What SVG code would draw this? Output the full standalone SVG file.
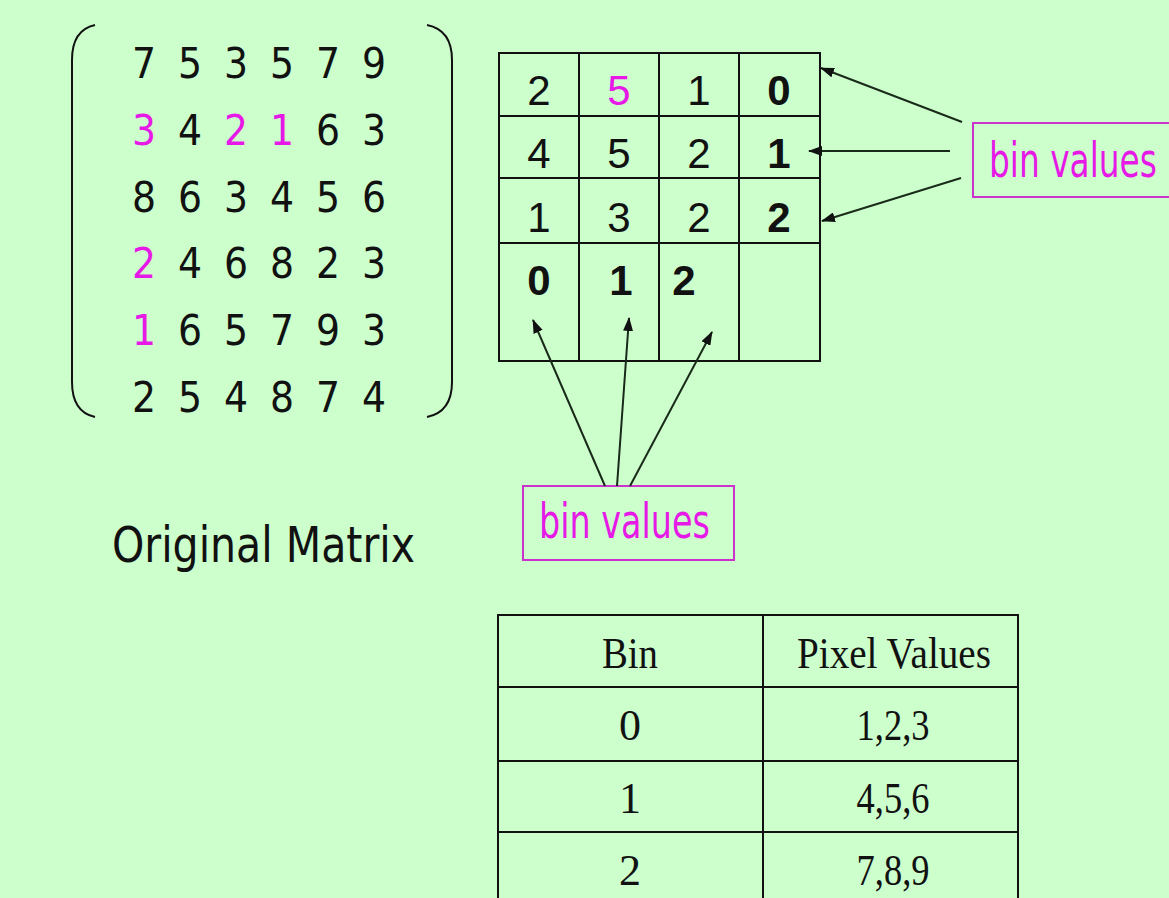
<svg xmlns="http://www.w3.org/2000/svg" width="1169" height="898" viewBox="0 0 1169 898">
<style>
.mx{font-family:"DejaVu Sans Condensed","DejaVu Sans",sans-serif;font-size:42px;fill:#111;text-anchor:middle}
.mg{fill:#e619e6}
.gd{font-family:"Liberation Sans",Arial,sans-serif;font-size:42px;fill:#111;text-anchor:middle}
.gb{font-weight:bold}
.ln{fill:none;stroke:#111;stroke-width:2}
.lbl{font-family:"DejaVu Sans Condensed","DejaVu Sans",sans-serif;font-size:48px;fill:#e619e6}
.lbox{fill:none;stroke:#cc33cc;stroke-width:2}
.tb{font-family:"Liberation Serif","Times New Roman",serif;font-size:44px;fill:#111;text-anchor:middle}
.con{fill:none;stroke:#1a2a1a;stroke-width:2;marker-end:url(#ah)}
</style>
<defs>
<marker id="ah" markerUnits="userSpaceOnUse" markerWidth="14" markerHeight="10" refX="13" refY="5" orient="auto">
<path d="M0,0 L14,5 L0,10 z" fill="#111"/>
</marker>
</defs>
<rect width="1169" height="898" fill="#ccffcc"/>

<g id="matrix">
<path class="ln" d="M95,25 Q72,30 72,60 L72,382 Q72,412 95,417"/>
<path class="ln" d="M427,25 Q452,30 452,60 L452,382 Q452,412 427,417"/>
<text class="mx" y="78"><tspan x="144">7</tspan><tspan x="190">5</tspan><tspan x="236">3</tspan><tspan x="282">5</tspan><tspan x="328">7</tspan><tspan x="374">9</tspan></text>
<text class="mx" y="145"><tspan x="144" class="mg">3</tspan><tspan x="190">4</tspan><tspan x="236" class="mg">2</tspan><tspan x="282" class="mg">1</tspan><tspan x="328">6</tspan><tspan x="374">3</tspan></text>
<text class="mx" y="212"><tspan x="144">8</tspan><tspan x="190">6</tspan><tspan x="236">3</tspan><tspan x="282">4</tspan><tspan x="328">5</tspan><tspan x="374">6</tspan></text>
<text class="mx" y="278"><tspan x="144" class="mg">2</tspan><tspan x="190">4</tspan><tspan x="236">6</tspan><tspan x="282">8</tspan><tspan x="328">2</tspan><tspan x="374">3</tspan></text>
<text class="mx" y="345"><tspan x="144" class="mg">1</tspan><tspan x="190">6</tspan><tspan x="236">5</tspan><tspan x="282">7</tspan><tspan x="328">9</tspan><tspan x="374">3</tspan></text>
<text class="mx" y="412"><tspan x="144">2</tspan><tspan x="190">5</tspan><tspan x="236">4</tspan><tspan x="282">8</tspan><tspan x="328">7</tspan><tspan x="374">4</tspan></text>
</g>

<g id="title">
<text x="112" y="562" font-family="'DejaVu Sans Condensed','DejaVu Sans',sans-serif" font-size="50" fill="#111" textLength="303" lengthAdjust="spacingAndGlyphs">Original Matrix</text>
</g>

<g id="grid">
<rect class="ln" x="499" y="53" width="321" height="308"/>
<path class="ln" d="M579,53V361M659,53V361M739,53V361M499,116H820M499,178H820M499,243H820"/>
<text class="gd" y="105"><tspan x="539">2</tspan><tspan x="619" class="mg">5</tspan><tspan x="699">1</tspan><tspan x="779" class="gb">0</tspan></text>
<text class="gd" y="168"><tspan x="539">4</tspan><tspan x="619">5</tspan><tspan x="699">2</tspan><tspan x="779" class="gb">1</tspan></text>
<text class="gd" y="232"><tspan x="539">1</tspan><tspan x="619">3</tspan><tspan x="699">2</tspan><tspan x="779" class="gb">2</tspan></text>
<text class="gd gb" y="295"><tspan x="539">0</tspan><tspan x="621">1</tspan><tspan x="684">2</tspan></text>
</g>

<g id="label-right">
<rect class="lbox" x="973" y="123" width="210" height="74"/>
<text class="lbl" transform="translate(989,177) scale(0.76,1)">bin values</text>
</g>

<g id="label-bottom">
<rect class="lbox" x="523" y="486" width="211" height="74"/>
<text class="lbl" x="539" y="538" textLength="171" lengthAdjust="spacingAndGlyphs">bin values</text>
</g>

<g id="connectors">
<line class="con" x1="962" y1="122" x2="821" y2="68"/>
<line class="con" x1="950" y1="151" x2="809" y2="151"/>
<line class="con" x1="961" y1="178" x2="822" y2="221"/>
<line class="con" x1="605" y1="486" x2="533" y2="320"/>
<line class="con" x1="617" y1="486" x2="629" y2="318"/>
<line class="con" x1="630" y1="486" x2="712" y2="332"/>
</g>

<g id="table">
<rect class="ln" x="498" y="615" width="520" height="290"/>
<path class="ln" d="M763,615V905M498,687H1018M498,761H1018M498,832H1018"/>
<text class="tb" x="630" y="668" textLength="56" lengthAdjust="spacingAndGlyphs">Bin</text>
<text class="tb" x="894" y="668" textLength="194" lengthAdjust="spacingAndGlyphs">Pixel Values</text>
<text class="tb" x="630" y="740">0</text>
<text class="tb" x="893" y="740" textLength="73" lengthAdjust="spacingAndGlyphs">1,2,3</text>
<text class="tb" x="630" y="813">1</text>
<text class="tb" x="893" y="813" textLength="73" lengthAdjust="spacingAndGlyphs">4,5,6</text>
<text class="tb" x="630" y="885">2</text>
<text class="tb" x="893" y="885" textLength="73" lengthAdjust="spacingAndGlyphs">7,8,9</text>
</g>
</svg>
